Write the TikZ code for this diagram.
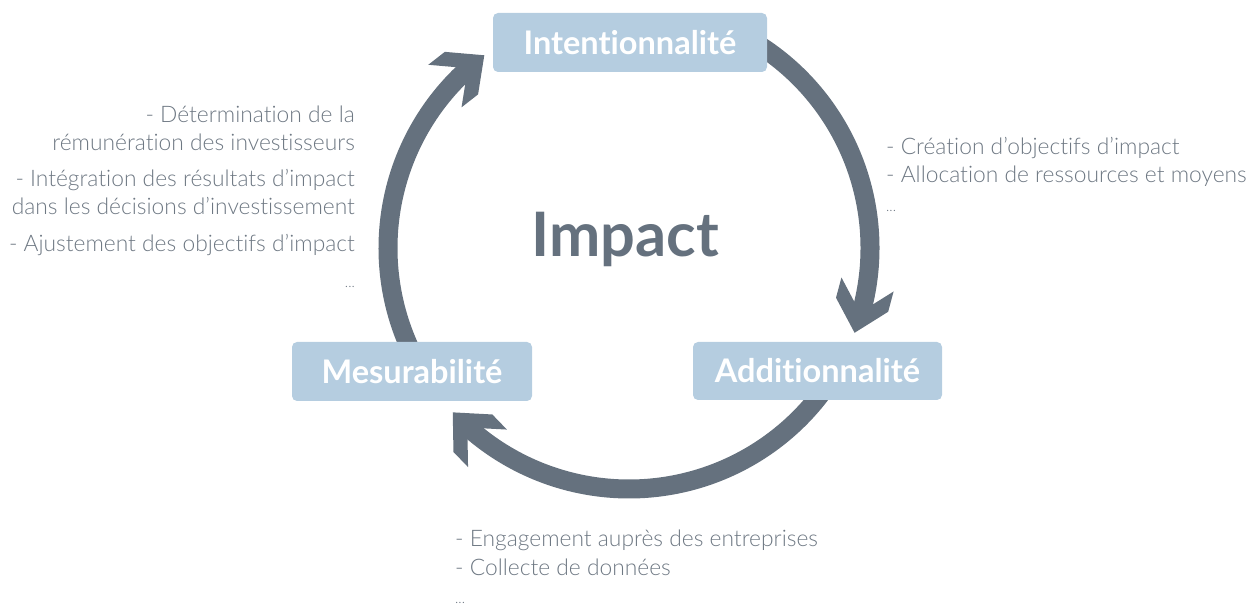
\documentclass[tikz,border=0pt]{standalone}
\usepackage{fontspec}
\setmainfont{Lato}[Ligatures=NoCommon]
\newfontfamily\lightfont{Lato}[UprightFont={* Light}, Ligatures=NoCommon]
\definecolor{ringc}{HTML}{65717E}
\definecolor{boxc}{HTML}{B5CDE0}
\definecolor{txtc}{HTML}{6E7883}
\tikzset{
  ring/.style={draw=ringc, line width=19pt},
  label box/.style={fill=boxc, rounded corners=5pt, inner sep=0pt, text=white,
     font=\fontsize{32.5}{38}\selectfont\bfseries},
  note/.style={text=txtc, inner sep=0pt, font=\lightfont\fontsize{22.8}{27}\selectfont},
  dots/.style={text=txtc, inner sep=0pt, font=\lightfont\fontsize{14}{16}\selectfont},
  headpic/.pic={\fill[ringc] (0,0) -- (-29,27) -- (-50,27) -- (-21,0) -- (-50,-27) -- (-29,-27) -- cycle;}
}
\begin{document}
\begin{tikzpicture}[x=1pt,y=1pt]
\useasboundingbox (0,0) rectangle (1250,605);
\coordinate (C) at (629,357);
% ring arcs
\draw[ring] ([shift={(58:241pt)}]C) arc[start angle=58, end angle=-16.5, radius=241pt];
\draw[ring] ([shift={(-35:241pt)}]C) arc[start angle=-35, end angle=-132.5, radius=241pt];
\draw[ring] ([shift={(210:241pt)}]C) arc[start angle=210, end angle=131, radius=241pt];
% arrow heads
\coordinate (tipA) at ([shift={(-20.6:241pt)}]C);
\coordinate (tipM) at ([shift={(-137:241pt)}]C);
\coordinate (tipI) at ([shift={(126.9:241pt)}]C);
\pic[rotate=-105] at (tipA) {headpic};
\pic[rotate=134] at (tipM) {headpic};
\pic[rotate=38] at (tipI) {headpic};
% boxes
\node[label box, minimum width=274pt, minimum height=59pt] (int) at (630,562.5) {Intentionnalité};
\node[label box, minimum width=249pt, minimum height=58pt] (add) at (817.5,234) {Additionnalité};
\node[label box, minimum width=240pt, minimum height=59pt] (mes) at (412,233.5) {Mesurabilité};
% centre
\node[text=ringc, inner sep=0pt, anchor=base, font=\fontsize{61.3}{70}\selectfont\bfseries] (impact) at (625.5,348) {Impact};
% left notes
\node[note, anchor=base east] (l1) at (355,482) {- Détermination de la};
\node[note, anchor=base east] (l2) at (355,454) {rémunération des investisseurs};
\node[note, anchor=base east] (l3) at (355,418) {- Intégration des résultats d’impact};
\node[note, anchor=base east] (l4) at (355,390) {dans les décisions d’investissement};
\node[note, anchor=base east] (l5) at (355,353) {- Ajustement des objectifs d’impact};
\node[dots, anchor=base east] (l6) at (355,317) {...};
% right notes
\node[note, anchor=base west] (r1) at (886,450) {- Création d’objectifs d’impact};
\node[note, anchor=base west] (r2) at (886,422) {- Allocation de ressources et moyens};
\node[dots, anchor=base west] (r3) at (886,393) {...};
% bottom notes
\node[note, anchor=base west] (b1) at (455,58) {- Engagement auprès des entreprises};
\node[note, anchor=base west] (b2) at (455,30) {- Collecte de données};
\node[dots, anchor=base west] (b3) at (455,1.5) {...};
\end{tikzpicture}
\end{document}
